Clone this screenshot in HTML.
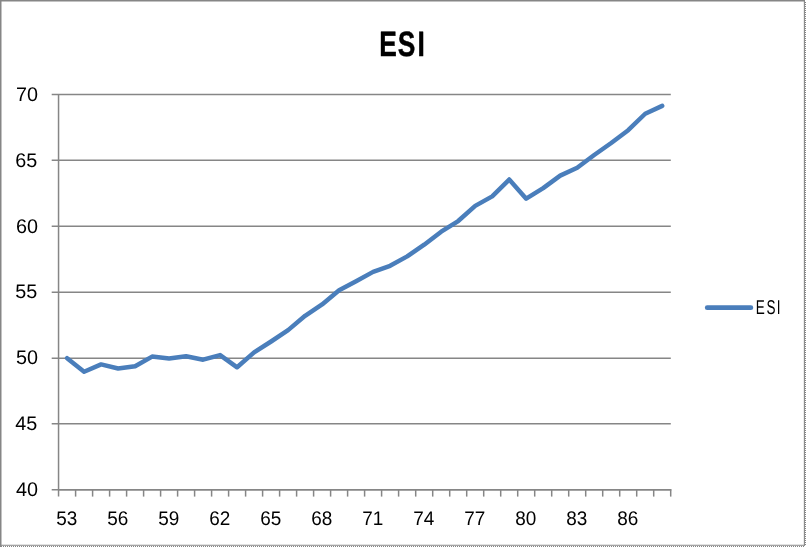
<!DOCTYPE html>
<html><head><meta charset="utf-8"><title>ESI</title>
<style>
html,body{margin:0;padding:0;background:#fff;}
body{width:806px;height:547px;overflow:hidden;}
svg{display:block;}
text{font-family:"Liberation Sans",sans-serif;fill:#000;text-rendering:geometricPrecision;}
</style></head><body>
<svg width="806" height="547" viewBox="0 0 806 547">
<rect x="0" y="0" width="806" height="547" fill="#fff"/>
<line x1="0" y1="0.75" x2="805" y2="0.75" stroke="#868686" stroke-width="1.5"/>
<line x1="0.75" y1="0" x2="0.75" y2="547" stroke="#868686" stroke-width="1.5"/>
<line x1="804.4" y1="0" x2="804.4" y2="545.8" stroke="#868686" stroke-width="1.1"/>
<line x1="0" y1="545.25" x2="804.95" y2="545.25" stroke="#868686" stroke-width="1.2"/>
<line x1="805.5" y1="2" x2="805.5" y2="545" stroke="#868686" stroke-width="1" stroke-dasharray="1 1"/>
<line x1="1" y1="546.5" x2="804" y2="546.5" stroke="#868686" stroke-width="1" stroke-dasharray="1 1"/>
<line x1="51.7" y1="489.75" x2="670.8" y2="489.75" stroke="#868686" stroke-width="1.5"/>
<line x1="51.7" y1="423.75" x2="670.8" y2="423.75" stroke="#868686" stroke-width="1.5"/>
<line x1="51.7" y1="358.25" x2="670.8" y2="358.25" stroke="#868686" stroke-width="1.5"/>
<line x1="51.7" y1="292.25" x2="670.8" y2="292.25" stroke="#868686" stroke-width="1.5"/>
<line x1="51.7" y1="226.25" x2="670.8" y2="226.25" stroke="#868686" stroke-width="1.5"/>
<line x1="51.7" y1="160.25" x2="670.8" y2="160.25" stroke="#868686" stroke-width="1.5"/>
<line x1="51.7" y1="94.50" x2="670.8" y2="94.50" stroke="#868686" stroke-width="1.5"/>
<line x1="58.55" y1="489.75" x2="671.48" y2="489.75" stroke="#868686" stroke-width="1.5"/>
<line x1="58.55" y1="94.5" x2="58.55" y2="496.6" stroke="#868686" stroke-width="1.5"/>
<line x1="75.6" y1="489.75" x2="75.6" y2="496.6" stroke="#868686" stroke-width="1.5"/>
<line x1="92.6" y1="489.75" x2="92.6" y2="496.6" stroke="#868686" stroke-width="1.5"/>
<line x1="109.6" y1="489.75" x2="109.6" y2="496.6" stroke="#868686" stroke-width="1.5"/>
<line x1="126.6" y1="489.75" x2="126.6" y2="496.6" stroke="#868686" stroke-width="1.5"/>
<line x1="143.6" y1="489.75" x2="143.6" y2="496.6" stroke="#868686" stroke-width="1.5"/>
<line x1="160.6" y1="489.75" x2="160.6" y2="496.6" stroke="#868686" stroke-width="1.5"/>
<line x1="177.6" y1="489.75" x2="177.6" y2="496.6" stroke="#868686" stroke-width="1.5"/>
<line x1="194.6" y1="489.75" x2="194.6" y2="496.6" stroke="#868686" stroke-width="1.5"/>
<line x1="211.6" y1="489.75" x2="211.6" y2="496.6" stroke="#868686" stroke-width="1.5"/>
<line x1="228.6" y1="489.75" x2="228.6" y2="496.6" stroke="#868686" stroke-width="1.5"/>
<line x1="245.6" y1="489.75" x2="245.6" y2="496.6" stroke="#868686" stroke-width="1.5"/>
<line x1="262.6" y1="489.75" x2="262.6" y2="496.6" stroke="#868686" stroke-width="1.5"/>
<line x1="279.6" y1="489.75" x2="279.6" y2="496.6" stroke="#868686" stroke-width="1.5"/>
<line x1="296.6" y1="489.75" x2="296.6" y2="496.6" stroke="#868686" stroke-width="1.5"/>
<line x1="313.6" y1="489.75" x2="313.6" y2="496.6" stroke="#868686" stroke-width="1.5"/>
<line x1="330.6" y1="489.75" x2="330.6" y2="496.6" stroke="#868686" stroke-width="1.5"/>
<line x1="347.6" y1="489.75" x2="347.6" y2="496.6" stroke="#868686" stroke-width="1.5"/>
<line x1="364.6" y1="489.75" x2="364.6" y2="496.6" stroke="#868686" stroke-width="1.5"/>
<line x1="381.6" y1="489.75" x2="381.6" y2="496.6" stroke="#868686" stroke-width="1.5"/>
<line x1="398.6" y1="489.75" x2="398.6" y2="496.6" stroke="#868686" stroke-width="1.5"/>
<line x1="415.7" y1="489.75" x2="415.7" y2="496.6" stroke="#868686" stroke-width="1.5"/>
<line x1="432.7" y1="489.75" x2="432.7" y2="496.6" stroke="#868686" stroke-width="1.5"/>
<line x1="449.7" y1="489.75" x2="449.7" y2="496.6" stroke="#868686" stroke-width="1.5"/>
<line x1="466.7" y1="489.75" x2="466.7" y2="496.6" stroke="#868686" stroke-width="1.5"/>
<line x1="483.7" y1="489.75" x2="483.7" y2="496.6" stroke="#868686" stroke-width="1.5"/>
<line x1="500.7" y1="489.75" x2="500.7" y2="496.6" stroke="#868686" stroke-width="1.5"/>
<line x1="517.7" y1="489.75" x2="517.7" y2="496.6" stroke="#868686" stroke-width="1.5"/>
<line x1="534.7" y1="489.75" x2="534.7" y2="496.6" stroke="#868686" stroke-width="1.5"/>
<line x1="551.7" y1="489.75" x2="551.7" y2="496.6" stroke="#868686" stroke-width="1.5"/>
<line x1="568.7" y1="489.75" x2="568.7" y2="496.6" stroke="#868686" stroke-width="1.5"/>
<line x1="585.7" y1="489.75" x2="585.7" y2="496.6" stroke="#868686" stroke-width="1.5"/>
<line x1="602.7" y1="489.75" x2="602.7" y2="496.6" stroke="#868686" stroke-width="1.5"/>
<line x1="619.7" y1="489.75" x2="619.7" y2="496.6" stroke="#868686" stroke-width="1.5"/>
<line x1="636.7" y1="489.75" x2="636.7" y2="496.6" stroke="#868686" stroke-width="1.5"/>
<line x1="653.7" y1="489.75" x2="653.7" y2="496.6" stroke="#868686" stroke-width="1.5"/>
<line x1="670.7" y1="489.75" x2="670.7" y2="496.6" stroke="#868686" stroke-width="1.5"/>
<polyline points="67.1,358.20 84.1,371.70 101.1,364.40 118.1,368.50 135.1,366.30 152.1,356.60 169.1,358.60 186.1,356.30 203.1,359.70 220.1,355.05 237.1,367.30 254.1,352.40 271.1,341.50 288.1,330.10 305.1,315.80 322.1,304.40 339.1,290.30 356.1,281.25 373.1,271.90 390.1,265.80 407.2,256.40 424.2,244.70 441.2,231.70 458.2,221.05 475.2,205.90 492.2,196.35 509.2,179.50 526.2,198.65 543.2,188.10 560.2,175.60 577.2,167.70 594.2,155.00 611.2,143.00 628.2,130.20 645.2,113.75 662.2,105.85" fill="none" stroke="#4A7EBB" stroke-width="4.5" stroke-linejoin="round" stroke-linecap="round"/>
<text x="37.9" y="495.85" font-size="19.8" text-anchor="end">40</text>
<text x="37.35" y="429.85" font-size="19.8" text-anchor="end">45</text>
<text x="37.9" y="363.85" font-size="19.8" text-anchor="end">50</text>
<text x="37.35" y="297.85" font-size="19.8" text-anchor="end">55</text>
<text x="37.9" y="232.95" font-size="19.8" text-anchor="end">60</text>
<text x="37.35" y="166.95" font-size="19.8" text-anchor="end">65</text>
<text x="37.9" y="100.75" font-size="19.8" text-anchor="end">70</text>
<text x="66.70" y="525.2" font-size="19.8" text-anchor="middle" textLength="21.1" lengthAdjust="spacingAndGlyphs">53</text>
<text x="117.72" y="525.2" font-size="19.8" text-anchor="middle" textLength="21.1" lengthAdjust="spacingAndGlyphs">56</text>
<text x="168.73" y="525.2" font-size="19.8" text-anchor="middle" textLength="21.1" lengthAdjust="spacingAndGlyphs">59</text>
<text x="219.75" y="525.2" font-size="19.8" text-anchor="middle" textLength="21.1" lengthAdjust="spacingAndGlyphs">62</text>
<text x="270.76" y="525.2" font-size="19.8" text-anchor="middle" textLength="21.1" lengthAdjust="spacingAndGlyphs">65</text>
<text x="321.78" y="525.2" font-size="19.8" text-anchor="middle" textLength="21.1" lengthAdjust="spacingAndGlyphs">68</text>
<text x="372.79" y="525.2" font-size="19.8" text-anchor="middle" textLength="21.1" lengthAdjust="spacingAndGlyphs">71</text>
<text x="423.81" y="525.2" font-size="19.8" text-anchor="middle" textLength="21.1" lengthAdjust="spacingAndGlyphs">74</text>
<text x="474.82" y="525.2" font-size="19.8" text-anchor="middle" textLength="21.1" lengthAdjust="spacingAndGlyphs">77</text>
<text x="525.84" y="525.2" font-size="19.8" text-anchor="middle" textLength="21.1" lengthAdjust="spacingAndGlyphs">80</text>
<text x="576.85" y="525.2" font-size="19.8" text-anchor="middle" textLength="21.1" lengthAdjust="spacingAndGlyphs">83</text>
<text x="627.87" y="525.2" font-size="19.8" text-anchor="middle" textLength="21.1" lengthAdjust="spacingAndGlyphs">86</text>
<text transform="translate(0,56.05) scale(0.75,1)" x="505.5 530.4 556.7" y="0" font-size="35.15" font-weight="bold" stroke="#000" stroke-width="0.5" stroke-linejoin="round">ESI</text>
<line x1="707.2" y1="307.7" x2="750.9" y2="307.7" stroke="#4A7EBB" stroke-width="4.7" stroke-linecap="round"/>
<text transform="translate(0,313.7) scale(0.6745,1)" x="1120.53 1136.32 1151.52" y="0" font-size="20.07">ESI</text>
</svg>
</body></html>
